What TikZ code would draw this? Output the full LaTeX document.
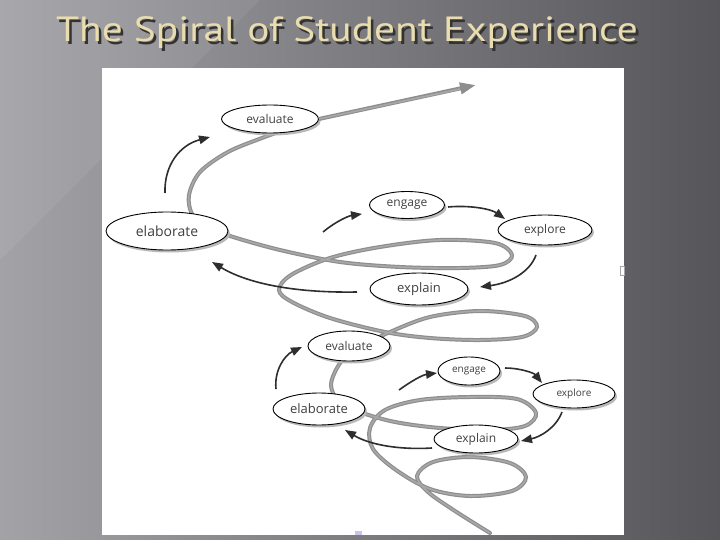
\documentclass[tikz,border=0pt]{standalone}
\usepackage{fontspec}
\newfontfamily\titlefont{PT Sans}
\newfontfamily\nodefont{Open Sans}
\usetikzlibrary{shapes.geometric,arrows.meta,shadows}
\definecolor{bgleft}{HTML}{A3A2A7}
\definecolor{bgright}{HTML}{56555A}
\definecolor{titlecol}{HTML}{E9DDAF}
\definecolor{arrowcol}{HTML}{2E2E2E}
\definecolor{spiralcol}{HTML}{8E8E8E}
\definecolor{spiralcore}{HTML}{A8A8A8}
\newcommand{\titletext}{The Spiral of Student Experience}
\tikzset{
  stage/.style={ellipse, draw=black, line width=0.9pt, fill=white, inner sep=0pt,
    font=\nodefont, text=black!75,
    drop shadow={shadow xshift=2pt, shadow yshift=-2.5pt, fill=gray!55, opacity=1}},
  cyc/.style={draw=arrowcol, line width=1.6pt, -{Triangle[length=11pt,width=8.5pt]}},
  spiral/.style={draw=spiralcol, line width=4pt, line cap=round},
  spiralin/.style={draw=spiralcore, line width=1.6pt, line cap=round},
}
\begin{document}
\begin{tikzpicture}[x=1pt,y=-1pt]
\useasboundingbox (0,0) rectangle (720,540);
% background
\shade[left color=bgleft, right color=bgright] (0,0) rectangle (720,540);
\fill[white, opacity=0.06] (0,0) -- (260,0) -- (0,260) -- cycle;
% title (with its shadow inside the same node)
\node[font=\titlefont\fontsize{35}{40}\selectfont, anchor=base, inner sep=0pt] (title) at (347,42)
  {\scalebox{1.185}[1]{\makebox[0pt][l]{\hspace{2.2pt}\raisebox{-2.5pt}{\color{black!80}\titletext}}\color{titlecol}\titletext}};
% panel
\fill[white] (102,68) rectangle (624,535);
\draw[gray!70, line width=0.6pt] (620,266) rectangle (624,275);
\fill[gray!50!blue!30] (355,531) rectangle (362,535);
% spiral
\def\spiralpath{plot[smooth, tension=0.55] coordinates {
 (490,533) (455,511) (428,492) (417,476) (433,462) (470,457) (510,463) (526,477)
 (512,491) (470,496) (430,489) (396,470) (373,449) (370,428) (385,410) (420,400)
 (470,397) (517,399) (536,413) (525,426) (490,430) (440,428) (395,422) (360,412)
 (338,400) (331,385) (337,368) (348,354) (366,344) (390,332) (430,317) (480,311)
 (525,316) (537,327) (522,337) (480,340) (430,338) (385,332) (330,318) (292,302)
 (279,290) (291,275) (330,258) (380,247) (440,240) (495,243) (512,255) (500,265)
 (460,268) (400,267) (340,262) (280,250) (230,236) (205,226) (192,214) (189,195)
 (200,172) (228,152) (262,138) (290,128)}}
\draw[spiral] \spiralpath;
\draw[spiralin] \spiralpath;
% nodes
\node[stage, minimum width=97pt, minimum height=28pt, font=\nodefont\fontsize{12}{14}\selectfont] (evalT) at (270,119) {evaluate};
\node[stage, minimum width=122pt, minimum height=38pt, font=\nodefont\fontsize{14}{16}\selectfont] (elabT) at (167,231) {elaborate};
\node[stage, minimum width=75pt, minimum height=27pt, font=\nodefont\fontsize{12}{14}\selectfont] (engT) at (407,205) {engage};
\node[stage, minimum width=94pt, minimum height=30pt, font=\nodefont\fontsize{12}{14}\selectfont] (explT) at (545,230) {explore};
\node[stage, minimum width=98pt, minimum height=32pt, font=\nodefont\fontsize{13}{15}\selectfont] (explainT) at (419,289) {explain};
\node[stage, minimum width=82pt, minimum height=30pt, font=\nodefont\fontsize{12}{14}\selectfont] (evalB) at (349,346) {evaluate};
\node[stage, minimum width=62pt, minimum height=28pt, font=\nodefont\fontsize{10}{12}\selectfont] (engB) at (469,371) {engage};
\node[stage, minimum width=82pt, minimum height=28pt, font=\nodefont\fontsize{10}{12}\selectfont] (explB) at (574,394) {explore};
\node[stage, minimum width=92pt, minimum height=32pt, font=\nodefont\fontsize{13}{15}\selectfont] (elabB) at (319,409) {elaborate};
\node[stage, minimum width=84pt, minimum height=28pt, font=\nodefont\fontsize{12}{14}\selectfont] (explainB) at (476,439) {explain};
% grey exit arrow
\coordinate (exit) at (476,85);
\draw[draw=spiralcol, line width=4pt, -{Triangle[length=16pt,width=11pt]}] (evalT.east) -- (exit);
\draw[draw=spiralcore, line width=1.6pt] (evalT.east) -- (460,89);
% cycle arrows top
\coordinate (a1s) at (165,193); \coordinate (a1e) at (210,137);
\coordinate (a2s) at (323,232); \coordinate (a2e) at (362,214);
\coordinate (a3s) at (448,207); \coordinate (a3e) at (505,219);
\coordinate (a4s) at (536,255); \coordinate (a4e) at (480,287);
\coordinate (a5s) at (357,292); \coordinate (a5e) at (212,262);
\draw[cyc] (a1s) .. controls +(-1,-28) and +(-30,8) .. (a1e);
\draw[cyc] (a2s) .. controls +(12,-10) and +(-14,2) .. (a2e);
\draw[cyc] (a3s) .. controls +(22,-2) and +(-14,-10) .. (a3e);
\draw[cyc] (a4s) .. controls +(-6,17) and +(30,-4) .. (a4e);
\draw[cyc] (a5s) .. controls +(-57,1) and +(38,23) .. (a5e);
% cycle arrows bottom
\coordinate (b1s) at (276,389); \coordinate (b1e) at (302,347);
\coordinate (b2s) at (399,390); \coordinate (b2e) at (437,373);
\coordinate (b3s) at (505,368); \coordinate (b3e) at (542,383);
\coordinate (b4s) at (562,412); \coordinate (b4e) at (521,441);
\coordinate (b5s) at (432,448); \coordinate (b5e) at (345,430);
\draw[cyc] (b1s) .. controls +(-2,-19) and +(-17,8) .. (b1e);
\draw[cyc] (b2s) .. controls +(11,-8) and +(-15,2) .. (b2e);
\draw[cyc] (b3s) .. controls +(15,0) and +(-8,-10) .. (b3e);
\draw[cyc] (b4s) .. controls +(-6,16) and +(19,-4) .. (b4e);
\draw[cyc] (b5s) .. controls +(-32,2) and +(25,15) .. (b5e);
\end{tikzpicture}
\end{document}
